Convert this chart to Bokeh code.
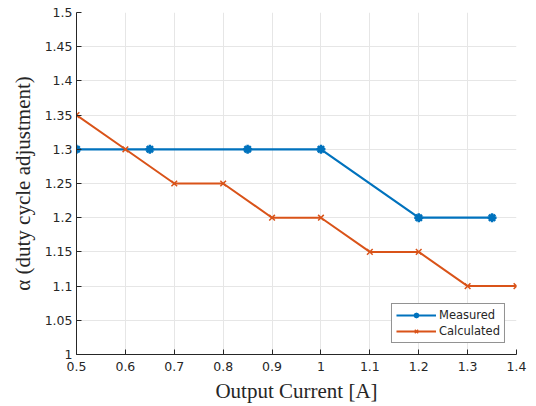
from bokeh.plotting import figure
from bokeh.models import Legend, LegendItem, FixedTicker, Range1d
from bokeh.embed import file_html
from bokeh.resources import INLINE

meas_x = [0.5, 0.65, 0.85, 1.0, 1.2, 1.35]
meas_y = [1.3, 1.3, 1.3, 1.3, 1.2, 1.2]
calc_x = [0.5, 0.6, 0.7, 0.8, 0.9, 1.0, 1.1, 1.2, 1.3, 1.4]
calc_y = [1.35, 1.3, 1.25, 1.25, 1.2, 1.2, 1.15, 1.15, 1.1, 1.1]
x_ticks = [0.5, 0.6, 0.7, 0.8, 0.9, 1.0, 1.1, 1.2, 1.3, 1.4]
x_labels = ["0.5", "0.6", "0.7", "0.8", "0.9", "1", "1.1", "1.2", "1.3", "1.4"]
y_ticks = [1.0, 1.05, 1.1, 1.15, 1.2, 1.25, 1.3, 1.35, 1.4, 1.45, 1.5]
y_labels = ["1", "1.05", "1.1", "1.15", "1.2", "1.25", "1.3", "1.35", "1.4", "1.45", "1.5"]

BLUE = "#0072BD"
ORANGE = "#D95319"

p = figure(width=536, height=406, output_backend="svg", toolbar_location=None,
           x_range=Range1d(0.5, 1.4), y_range=Range1d(1.0, 1.5),
           min_border_left=76, min_border_right=20, min_border_top=12, min_border_bottom=52)
p.outline_line_color = None
p.background_fill_color = "white"
p.border_fill_color = "white"

for ax in (p.xaxis[0], p.yaxis[0]):
    ax.axis_line_color = "#262626"
    ax.major_tick_line_color = "#262626"
    ax.major_tick_in = 5
    ax.major_tick_out = 0
    ax.minor_tick_line_color = None
    ax.major_label_text_font = "DejaVu Sans"
    ax.major_label_text_font_size = "12.5px"
    ax.major_label_text_color = "#262626"
    ax.axis_label_text_font = "Liberation Serif"
    ax.axis_label_text_font_size = "21px"
    ax.axis_label_text_font_style = "normal"
    ax.axis_label_text_color = "#262626"

p.xaxis.ticker = FixedTicker(ticks=x_ticks)
p.xaxis.major_label_overrides = {t: l for t, l in zip(x_ticks, x_labels)}
p.yaxis.ticker = FixedTicker(ticks=y_ticks)
p.yaxis.major_label_overrides = {t: l for t, l in zip(y_ticks, y_labels)}
p.xaxis.axis_label = "Output Current [A]"
p.yaxis.axis_label = "α (duty cycle adjustment)"
p.xaxis.major_label_standoff = 7
p.yaxis.major_label_standoff = 4
p.yaxis.axis_label_standoff = 7
p.xaxis.axis_label_standoff = 5

p.grid.grid_line_color = "#e6e6e6"
p.grid.grid_line_width = 1

l1 = p.line(meas_x, meas_y, line_color=BLUE, line_width=2.2)
m1 = p.scatter(meas_x, meas_y, marker="asterisk", size=9, line_color=BLUE, line_width=2.5)
m1b = p.scatter(meas_x, meas_y, marker="circle", size=6, fill_color=BLUE, line_color=BLUE)
l2 = p.line(calc_x, calc_y, line_color=ORANGE, line_width=2)
m2 = p.scatter(calc_x, calc_y, marker="x", size=8, line_color=ORANGE, line_width=1.5)

legend = Legend(items=[LegendItem(label="Measured", renderers=[l1, m1, m1b]),
                       LegendItem(label="Calculated", renderers=[l2, m2])],
                location="bottom_right")
legend.border_line_color = "#262626"
legend.border_line_width = 1
legend.label_text_font = "DejaVu Sans"
legend.label_text_font_size = "11.5px"
legend.label_text_color = "#262626"
legend.glyph_width = 40
legend.glyph_height = 12
legend.label_height = 12
legend.spacing = 2
legend.padding = 4
legend.margin = 11
legend.label_standoff = 3
legend.background_fill_alpha = 1
p.add_layout(legend)

open("out.html", "w").write(file_html(p, INLINE))
